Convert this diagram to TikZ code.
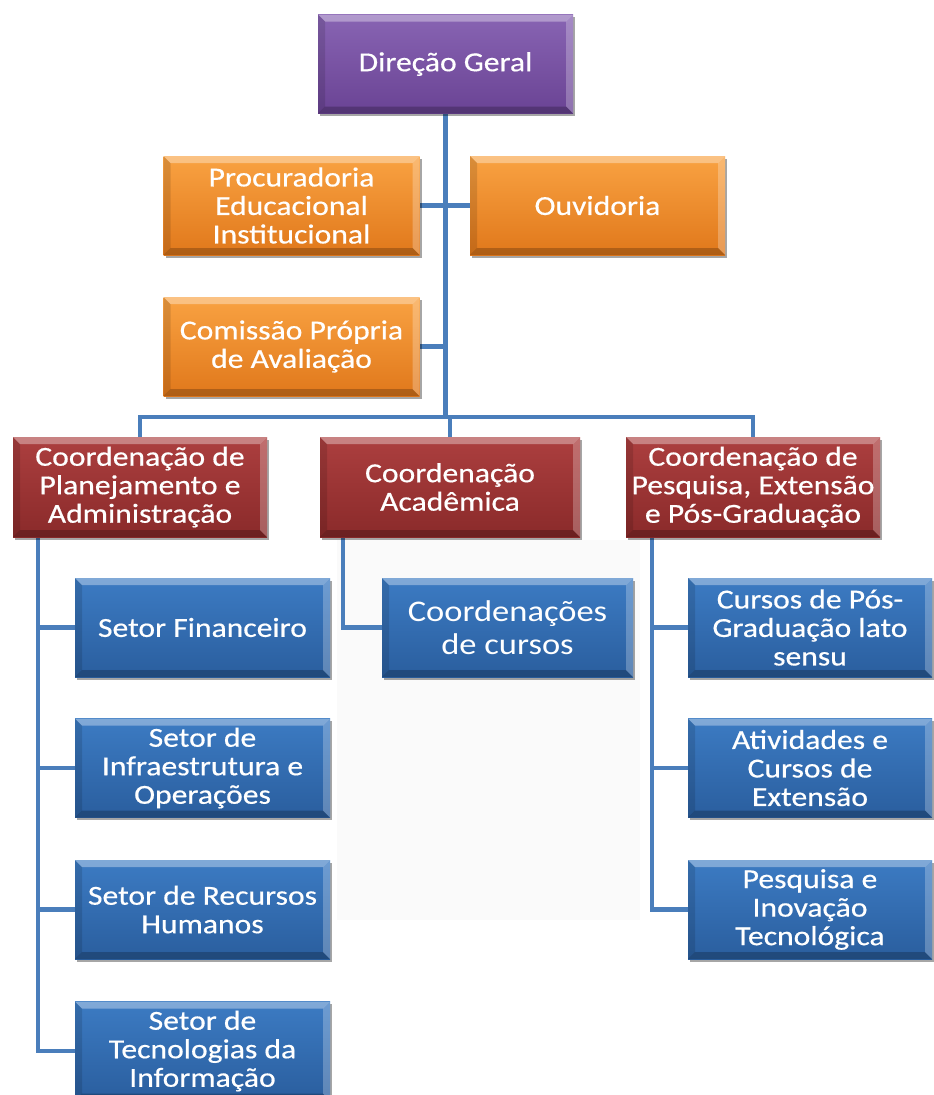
\documentclass[tikz,border=0pt]{standalone}
\usepackage{fontspec}
\setmainfont{Carlito}[FakeStretch=1.15]
\newfontfamily\boxfont{Carlito}[FakeStretch=1.15,FakeBold=0.5]
\usetikzlibrary{shadows,backgrounds}
\definecolor{lineblue}{HTML}{4A7EBB}
\definecolor{purpT}{HTML}{8864B3}
\definecolor{purpB}{HTML}{6A4394}
\definecolor{oranT}{HTML}{F9A242}
\definecolor{oranB}{HTML}{E0781B}
\definecolor{redT}{HTML}{AC3F3F}
\definecolor{redB}{HTML}{8A2A2A}
\definecolor{bluT}{HTML}{3C7BC3}
\definecolor{bluB}{HTML}{2A5E9E}
\definecolor{faint}{HTML}{FAFAFA}
\begin{document}
\begin{tikzpicture}[x=1pt,y=-1pt,
  box/.style={rectangle, inner sep=0pt, align=center, text=white,
    font=\boxfont\fontsize{27.5}{28.5}\selectfont,
    minimum height=99pt,
    drop shadow={shadow xshift=2pt,shadow yshift=-2.5pt,opacity=0.35,fill=black},
    path picture={
      \fill[white,opacity=0.35] (path picture bounding box.north west) -- (path picture bounding box.north east)
        -- ([xshift=-7pt,yshift=-7pt]path picture bounding box.north east) -- ([xshift=7pt,yshift=-7pt]path picture bounding box.north west) -- cycle;
      \fill[white,opacity=0.25] (path picture bounding box.north east) -- (path picture bounding box.south east)
        -- ([xshift=-7pt,yshift=7pt]path picture bounding box.south east) -- ([xshift=-7pt,yshift=-7pt]path picture bounding box.north east) -- cycle;
      \fill[black,opacity=0.12] (path picture bounding box.north west) -- (path picture bounding box.south west)
        -- ([xshift=7pt,yshift=7pt]path picture bounding box.south west) -- ([xshift=7pt,yshift=-7pt]path picture bounding box.north west) -- cycle;
      \fill[black,opacity=0.22] (path picture bounding box.south west) -- (path picture bounding box.south east)
        -- ([xshift=-7pt,yshift=7pt]path picture bounding box.south east) -- ([xshift=7pt,yshift=7pt]path picture bounding box.south west) -- cycle;
    }},
  purplebox/.style={box, top color=purpT, bottom color=purpB},
  orangebox/.style={box, top color=oranT, bottom color=oranB},
  redbox/.style={box, top color=redT, bottom color=redB},
  bluebox/.style={box, top color=bluT, bottom color=bluB},
  conn/.style={draw=lineblue, line width=4.6pt}
]
\useasboundingbox (0,0) rectangle (934,1095);
\clip (0,0) rectangle (934,1095);

% top
\node[purplebox, minimum width=255pt] (dg) at (445.5,64) {Direção Geral};
\node[orangebox, minimum width=256pt] (proc) at (291.5,205.5) {Procuradoria\\Educacional\\Institucional};
\node[orangebox, minimum width=255pt] (ouv) at (597.5,205.5) {Ouvidoria};
\node[orangebox, minimum width=256pt] (com) at (291.5,346.5) {Comissão Própria\\de Avaliação};

% coordinations
\node[redbox, minimum width=254pt, minimum height=100pt] (c1) at (140,487) {Coordenação de\\Planejamento e\\Administração};
\node[redbox, minimum width=260pt, minimum height=100pt] (c2) at (450,487) {Coordenação\\Acadêmica};
\node[redbox, minimum width=254pt, minimum height=100pt] (c3) at (753,487) {Coordenação de\\Pesquisa, Extensão\\e Pós-Graduação};

% left column
\node[bluebox, minimum width=255pt] (b1) at (202.5,627.5) {Setor Financeiro};
\node[bluebox, minimum width=255pt] (b2) at (202.5,768) {Setor de\\Infraestrutura e\\Operações};
\node[bluebox, minimum width=255pt] (b3) at (202.5,909.5) {Setor de Recursos\\Humanos};
\node[bluebox, minimum width=255pt] (b4) at (202.5,1051) {Setor de\\Tecnologias da\\Informação};

% middle
\node[bluebox, minimum width=251pt, font=\fontsize{30}{33}\selectfont] (m1) at (507.5,627.5) {Coordenações\\de cursos};

% right column
\node[bluebox, minimum width=244pt] (r1) at (810,627.5) {Cursos de Pós-\\Graduação lato\\sensu};
\node[bluebox, minimum width=244pt] (r2) at (810,768) {Atividades e\\Cursos de\\Extensão};
\node[bluebox, minimum width=244pt] (r3) at (810,909.5) {Pesquisa e\\Inovação\\Tecnológica};

\coordinate (bar) at (446,417);
\coordinate (l1) at (38,0);
\coordinate (l2) at (343,0);
\coordinate (l3) at (652,0);

\begin{scope}[on background layer]
  \fill[faint] (337,540) rectangle (640,920);
  \draw[conn] (dg) -- (dg |- bar);
  \draw[conn] (proc) -- (ouv);
  \draw[conn] (com) -- (com -| dg);
  \draw[conn] (c1.north) |- (bar) -| (c3.north);
  \draw[conn] (c2.north) -- (c2.north |- bar);
  \draw[conn] (c1.south -| l1) |- (b4.west);
  \foreach \b in {b1,b2,b3} \draw[conn] (\b.west -| l1) -- (\b.west);
  \draw[conn] (c2.south -| l2) |- (m1.west);
  \draw[conn] (c3.south -| l3) |- (r3.west);
  \foreach \b in {r1,r2} \draw[conn] (\b.west -| l3) -- (\b.west);
\end{scope}
\end{tikzpicture}
\end{document}
